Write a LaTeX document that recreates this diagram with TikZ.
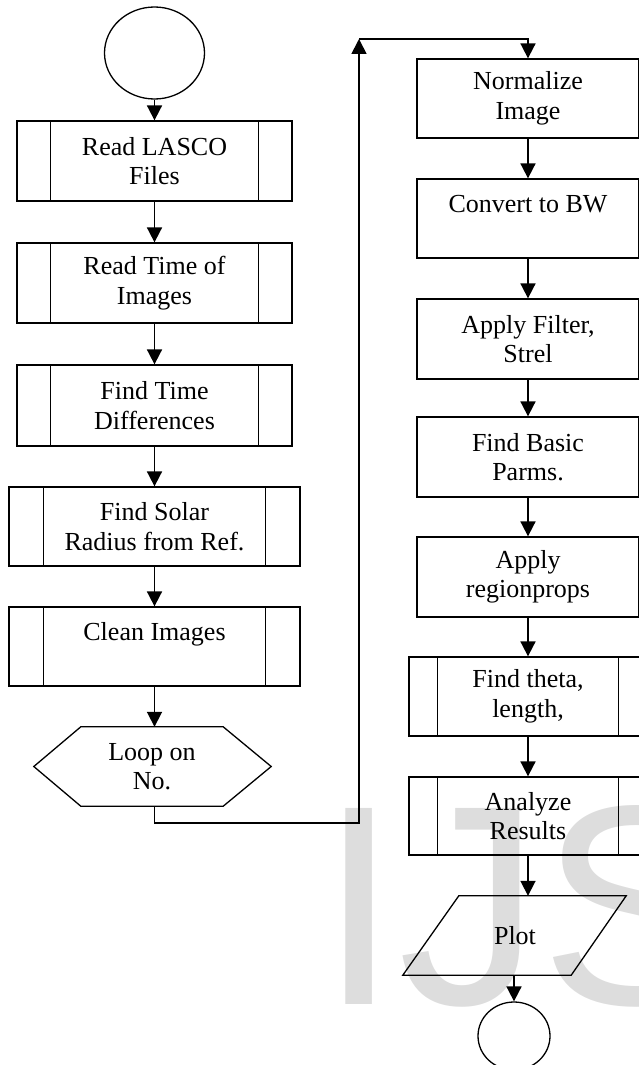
\documentclass[tikz,border=0pt]{standalone}
\usepackage{fontspec}
\setmainfont{Liberation Serif}
\newfontfamily\wmfont{Liberation Sans}
\usetikzlibrary{arrows.meta,shapes.geometric}
\definecolor{wm}{RGB}{221,221,221}
\begin{document}
\begin{tikzpicture}[x=1pt,y=-1pt,
  font=\fontsize{26}{29.5}\selectfont,
  box/.style={draw, line width=1.3pt, minimum height=80pt, minimum width=222pt, inner sep=0pt, align=center},
  lbox/.style={box, minimum width=275pt},
  wbox/.style={box, minimum width=291pt},
  rbox/.style={box, minimum width=238pt},
  txt/.style={inner sep=0pt, align=center},
  term/.style={draw, ellipse, line width=1.3pt, inner sep=0pt},
  shp/.style={line width=1.3pt, line join=miter},
  arr/.style={line width=1.8pt, -{Triangle[length=15pt,width=15pt]}},
  sub/.style={line width=1.3pt}
]
\useasboundingbox (0,0) rectangle (639,1065);
\clip (0,0) rectangle (639,1065);
% watermark
\node[anchor=base west, inner sep=0pt, text=wm, font=\wmfont\fontsize{285}{285}\selectfont] (wmk) at (319,1004) {IJS};

% left column
\node[term, minimum width=100pt, minimum height=92pt] (start) at (154.5,53) {};
\node[lbox] (b1) at (154.5,161) {Read LASCO\\Files};
\node[lbox] (b2) at (154.5,283) {Read Time of\\Images};
\node[lbox, minimum height=81pt] (b3) at (154.5,405.5) {Find Time\\Differences};
\node[wbox, minimum height=79pt] (b4) at (154.5,526.5) {Find Solar\\Radius from Ref.};
\node[wbox, minimum height=79pt] (b5) at (154.5,646.5) {Clean Images\\\mbox{}};
\node[txt, minimum width=142pt, minimum height=79pt] (hex) at (152,766.5) {Loop on\\No.};
\draw[shp] (hex.north west) -- (hex.north east) -- ([xshift=48pt]hex.east) -- (hex.south east)
  -- (hex.south west) -- ([xshift=-47pt]hex.west) -- cycle;

\foreach \n/\o in {b1/34,b2/34,b3/34,b4/35,b5/35}{
  \draw[sub] ([xshift=\o pt]\n.north west) -- ([xshift=\o pt]\n.south west);
  \draw[sub] ([xshift=-\o pt]\n.north east) -- ([xshift=-\o pt]\n.south east);
}

% right column
\node[box, minimum height=79pt] (n1) at (528,98.5) {Normalize\\Image};
\node[box, minimum height=79pt] (n2) at (528,218.5) {Convert to BW\\\mbox{}};
\node[box] (n3) at (528,339) {Apply Filter,\\Strel};
\node[box] (n4) at (528,457) {Find Basic\\Parms.};
\node[box] (n5) at (528,577) {Apply\\regionprops};
\node[rbox, minimum height=79pt] (n6) at (528,696.5) {Find theta,\\length,};
\node[rbox, minimum height=78pt] (n7) at (528,816) {Analyze\\Results};
\foreach \n in {n6,n7}{
  \draw[sub] ([xshift=29pt]\n.north west) -- ([xshift=29pt]\n.south west);
  \draw[sub] ([xshift=-29pt]\n.north east) -- ([xshift=-29pt]\n.south east);
}
\node[txt, minimum width=112pt, minimum height=79pt] (plot) at (515,935.5) {Plot};
\draw[shp] (plot.north west) -- ([xshift=55pt]plot.north east) -- (plot.south east)
  -- ([xshift=-56pt]plot.south west) -- cycle;
\node[term, minimum width=72pt, minimum height=68pt] (end) at (514,1036) {};

% connectors
\draw[arr] (start) -- (b1);
\draw[arr] (b1) -- (b2);
\draw[arr] (b2) -- (b3);
\draw[arr] (b3) -- (b4);
\draw[arr] (b4) -- (b5);
\draw[arr] (b5.south) -- (b5.south |- hex.north);
\coordinate (lb) at (359,823);
\coordinate (lt) at (359,39);
\draw[arr] (hex.south -| b5.south) |- (lb) -- (lt);
\draw[arr] (lt) -| (n1.north);
\draw[arr] (n1) -- (n2);
\draw[arr] (n2) -- (n3);
\draw[arr] (n3) -- (n4);
\draw[arr] (n4) -- (n5);
\draw[arr] (n5) -- (n6);
\draw[arr] (n6) -- (n7);
\draw[arr] (n7.south) -- (n7.south |- plot.north);
\draw[arr] (plot.south -| end.north) -- (end.north);
\end{tikzpicture}
\end{document}
